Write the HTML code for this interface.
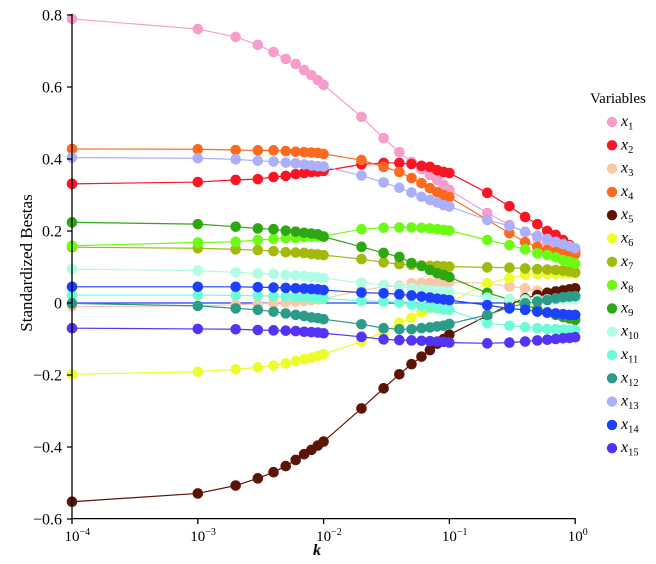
<!DOCTYPE html>
<html><head><meta charset="utf-8"><style>
html,body{margin:0;padding:0;background:#fff;}
svg{display:block;font-family:"Liberation Serif","DejaVu Serif",serif;}
.ln{fill:none;stroke-width:1.2;vector-effect:non-scaling-stroke;stroke-linejoin:round;}
.dt{fill:none;stroke-width:10.6;stroke-linecap:round;vector-effect:non-scaling-stroke;}
</style></head><body>
<svg width="656" height="564" viewBox="0 0 656 564" xmlns="http://www.w3.org/2000/svg">
<rect width="656" height="564" fill="#fff"/>
<g transform="matrix(1,0,0,-360,0,303)">
<!-- lines -->
<path class="ln" stroke="#1c40fc" d="M72 0L509 0"/>
<path class="ln" stroke="#f79dcb" d="M72 .789L197.8 .761 235.67 .739 257.82 .717 273.54 .697 285.73 .678 295.69 .664 304.11 .647 311.41 .633 317.84 .619 323.6 .606 361.47 .517 383.62 .458 399.34 .419 411.53 .392 421.49 .372 429.91 .356 437.21 .342 443.64 .328 449.4 .314 487.27 .25 509.42 .217 525.14 .197 537.33 .181 547.29 .169 555.71 .164 563.01 .158 569.44 .153 575.2 .147"/>
<path class="ln" stroke="#fb1424" d="M72 .331L197.8 .336 235.67 .342 257.82 .344 273.54 .35 285.73 .353 295.69 .358 304.11 .361 311.41 .364 317.84 .365 323.6 .367 361.47 .385 383.62 .389 399.34 .389 411.53 .386 421.49 .381 429.91 .378 437.21 .369 443.64 .364 449.4 .361 487.27 .306 509.42 .269 525.14 .239 537.33 .219 547.29 .2 555.71 .189 563.01 .175 569.44 .161 575.2 .145"/>
<path class="ln" stroke="#fcc6a8" d="M72 -.01L197.8 -.008 235.67 -.005 257.82 -.002 273.54 0 285.73 .002 295.69 .004 304.11 .006 311.41 .008 317.84 .01 323.6 .012 361.47 .035 383.62 .045 399.34 .048 411.53 .055 421.49 .056 429.91 .056 437.21 .056 443.64 .057 449.4 .058 487.27 .055 509.42 .046 525.14 .041 537.33 .034 547.29 .03 555.71 .027 563.01 .025 569.44 .022 575.2 .02"/>
<path class="ln" stroke="#fb6a1e" d="M72 .428L197.8 .427 235.67 .425 257.82 .424 273.54 .424 285.73 .422 295.69 .42 304.11 .419 311.41 .418 317.84 .417 323.6 .414 361.47 .397 383.62 .378 399.34 .364 411.53 .347 421.49 .333 429.91 .319 437.21 .308 443.64 .3 449.4 .294 487.27 .231 509.42 .194 525.14 .169 537.33 .156 547.29 .147 555.71 .142 563.01 .139 569.44 .136 575.2 .135"/>
<path class="ln" stroke="#5c1404" d="M72 -.552L197.8 -.529 235.67 -.507 257.82 -.487 273.54 -.47 285.73 -.453 295.69 -.436 304.11 -.42 311.41 -.408 317.84 -.396 323.6 -.385 361.47 -.293 383.62 -.237 399.34 -.198 411.53 -.17 421.49 -.149 429.91 -.131 437.21 -.113 443.64 -.1 449.4 -.088 487.27 -.035 509.42 -.005 525.14 .013 537.33 .022 547.29 .028 555.71 .032 563.01 .035 569.44 .038 575.2 .041"/>
<path class="ln" stroke="#ecfc2c" d="M72 -.198L197.8 -.191 235.67 -.184 257.82 -.179 273.54 -.174 285.73 -.168 295.69 -.161 304.11 -.156 311.41 -.152 317.84 -.147 323.6 -.142 361.47 -.107 383.62 -.08 399.34 -.055 411.53 -.041 421.49 -.027 429.91 -.015 437.21 -.01 443.64 -.004 449.4 .001 487.27 .055 509.42 .069 525.14 .078 537.33 .08 547.29 .081 555.71 .081 563.01 .082 569.44 .082 575.2 .082"/>
<path class="ln" stroke="#a3b90c" d="M72 .155L197.8 .152 235.67 .149 257.82 .147 273.54 .144 285.73 .141 295.69 .14 304.11 .139 311.41 .136 317.84 .135 323.6 .133 361.47 .122 383.62 .113 399.34 .108 411.53 .106 421.49 .104 429.91 .103 437.21 .103 443.64 .102 449.4 .101 487.27 .099 509.42 .098 525.14 .096 537.33 .094 547.29 .093 555.71 .092 563.01 .09 569.44 .088 575.2 .085"/>
<path class="ln" stroke="#6cfc14" d="M72 .159L197.8 .168 235.67 .17 257.82 .175 273.54 .178 285.73 .18 295.69 .181 304.11 .183 311.41 .184 317.84 .185 323.6 .186 361.47 .205 383.62 .209 399.34 .21 411.53 .21 421.49 .209 429.91 .207 437.21 .205 443.64 .203 449.4 .201 487.27 .175 509.42 .161 525.14 .149 537.33 .138 547.29 .133 555.71 .127 563.01 .119 569.44 .115 575.2 .11"/>
<path class="ln" stroke="#2ea812" d="M72 .224L197.8 .219 235.67 .212 257.82 .207 273.54 .205 285.73 .201 295.69 .198 304.11 .195 311.41 .193 317.84 .191 323.6 .184 361.47 .156 383.62 .139 399.34 .128 411.53 .111 421.49 .103 429.91 .092 437.21 .083 443.64 .078 449.4 .072 487.27 .028 509.42 .01 525.14 -.005 537.33 -.018 547.29 -.026 555.71 -.033 563.01 -.039 569.44 -.043 575.2 -.047"/>
<path class="ln" stroke="#b0fce6" d="M72 .094L197.8 .09 235.67 .085 257.82 .082 273.54 .081 285.73 .078 295.69 .077 304.11 .075 311.41 .073 317.84 .071 323.6 .069 361.47 .056 383.62 .05 399.34 .045 411.53 .042 421.49 .038 429.91 .036 437.21 .034 443.64 .032 449.4 .031 487.27 .015 509.42 .01 525.14 .01 537.33 .01 547.29 .01 555.71 .01 563.01 .01 569.44 .01 575.2 .01"/>
<path class="ln" stroke="#6cfcd8" d="M72 .022L197.8 .022 235.67 .021 257.82 .02 273.54 .019 285.73 .018 295.69 .017 304.11 .016 311.41 .015 317.84 .014 323.6 .013 361.47 .006 383.62 .004 399.34 .001 411.53 -.004 421.49 -.008 429.91 -.012 437.21 -.015 443.64 -.018 449.4 -.019 487.27 -.056 509.42 -.063 525.14 -.067 537.33 -.07 547.29 -.072 555.71 -.073 563.01 -.074 569.44 -.075 575.2 -.075"/>
<path class="ln" stroke="#2c9c8a" d="M72 -.001L197.8 -.008 235.67 -.015 257.82 -.019 273.54 -.024 285.73 -.029 295.69 -.033 304.11 -.036 311.41 -.04 317.84 -.042 323.6 -.045 361.47 -.059 383.62 -.07 399.34 -.073 411.53 -.073 421.49 -.07 429.91 -.068 437.21 -.065 443.64 -.063 449.4 -.058 487.27 -.033 509.42 -.012 525.14 -.001 537.33 .004 547.29 .008 555.71 .013 563.01 .016 569.44 .018 575.2 .019"/>
<path class="ln" stroke="#acb0fa" d="M72 .404L197.8 .402 235.67 .399 257.82 .395 273.54 .393 285.73 .39 295.69 .388 304.11 .385 311.41 .382 317.84 .38 323.6 .379 361.47 .354 383.62 .335 399.34 .32 411.53 .307 421.49 .295 429.91 .286 437.21 .279 443.64 .272 449.4 .268 487.27 .231 509.42 .214 525.14 .198 537.33 .186 547.29 .178 555.71 .17 563.01 .164 569.44 .158 575.2 .152"/>
<path class="ln" stroke="#1c40fc" d="M72 .045L197.8 .045 235.67 .045 257.82 .044 273.54 .043 285.73 .042 295.69 .041 304.11 .04 311.41 .039 317.84 .038 323.6 .036 361.47 .029 383.62 .027 399.34 .024 411.53 .021 421.49 .018 429.91 .015 437.21 .012 443.64 .01 449.4 .008 487.27 -.006 509.42 -.015 525.14 -.019 537.33 -.024 547.29 -.027 555.71 -.029 563.01 -.031 569.44 -.033 575.2 -.033"/>
<path class="ln" stroke="#5434f4" d="M72 -.07L197.8 -.072 235.67 -.073 257.82 -.075 273.54 -.076 285.73 -.077 295.69 -.078 304.11 -.08 311.41 -.081 317.84 -.082 323.6 -.084 361.47 -.094 383.62 -.101 399.34 -.103 411.53 -.104 421.49 -.105 429.91 -.106 437.21 -.107 443.64 -.108 449.4 -.11 487.27 -.112 509.42 -.11 525.14 -.107 537.33 -.104 547.29 -.102 555.71 -.1 563.01 -.098 569.44 -.097 575.2 -.095"/>
<!-- dots -->
<path class="dt" stroke="#f79dcb" d="M72 .789h0M197.8 .761h0M235.67 .739h0M257.82 .717h0M273.54 .697h0M285.73 .678h0M295.69 .664h0M304.11 .647h0M311.41 .633h0M317.84 .619h0M323.6 .606h0M361.47 .517h0M383.62 .458h0M399.34 .419h0M411.53 .392h0M421.49 .372h0M429.91 .356h0M437.21 .342h0M443.64 .328h0M449.4 .314h0M487.27 .25h0M509.42 .217h0M525.14 .197h0M537.33 .181h0M547.29 .169h0M555.71 .164h0M563.01 .158h0M569.44 .153h0M575.2 .147h0"/>
<path class="dt" stroke="#fb1424" d="M72 .331h0M197.8 .336h0M235.67 .342h0M257.82 .344h0M273.54 .35h0M285.73 .353h0M295.69 .358h0M304.11 .361h0M311.41 .364h0M317.84 .365h0M323.6 .367h0M361.47 .385h0M383.62 .389h0M399.34 .389h0M411.53 .386h0M421.49 .381h0M429.91 .378h0M437.21 .369h0M443.64 .364h0M449.4 .361h0M487.27 .306h0M509.42 .269h0M525.14 .239h0M537.33 .219h0M547.29 .2h0M555.71 .189h0M563.01 .175h0M569.44 .161h0M575.2 .145h0"/>
<path class="dt" stroke="#fcc6a8" d="M72 -.01h0M197.8 -.008h0M235.67 -.005h0M257.82 -.002h0M273.54 0h0M285.73 .002h0M295.69 .004h0M304.11 .006h0M311.41 .008h0M317.84 .01h0M323.6 .012h0M361.47 .035h0M383.62 .045h0M399.34 .048h0M411.53 .055h0M421.49 .056h0M429.91 .056h0M437.21 .056h0M443.64 .057h0M449.4 .058h0M487.27 .055h0M509.42 .046h0M525.14 .041h0M537.33 .034h0M547.29 .03h0M555.71 .027h0M563.01 .025h0M569.44 .022h0M575.2 .02h0"/>
<path class="dt" stroke="#fb6a1e" d="M72 .428h0M197.8 .427h0M235.67 .425h0M257.82 .424h0M273.54 .424h0M285.73 .422h0M295.69 .42h0M304.11 .419h0M311.41 .418h0M317.84 .417h0M323.6 .414h0M361.47 .397h0M383.62 .378h0M399.34 .364h0M411.53 .347h0M421.49 .333h0M429.91 .319h0M437.21 .308h0M443.64 .3h0M449.4 .294h0M487.27 .231h0M509.42 .194h0M525.14 .169h0M537.33 .156h0M547.29 .147h0M555.71 .142h0M563.01 .139h0M569.44 .136h0M575.2 .135h0"/>
<path class="dt" stroke="#5c1404" d="M72 -.552h0M197.8 -.529h0M235.67 -.507h0M257.82 -.487h0M273.54 -.47h0M285.73 -.453h0M295.69 -.436h0M304.11 -.42h0M311.41 -.408h0M317.84 -.396h0M323.6 -.385h0M361.47 -.293h0M383.62 -.237h0M399.34 -.198h0M411.53 -.17h0M421.49 -.149h0M429.91 -.131h0M437.21 -.113h0M443.64 -.1h0M449.4 -.088h0M487.27 -.035h0M509.42 -.005h0M525.14 .013h0M537.33 .022h0M547.29 .028h0M555.71 .032h0M563.01 .035h0M569.44 .038h0M575.2 .041h0"/>
<path class="dt" stroke="#ecfc2c" d="M72 -.198h0M197.8 -.191h0M235.67 -.184h0M257.82 -.179h0M273.54 -.174h0M285.73 -.168h0M295.69 -.161h0M304.11 -.156h0M311.41 -.152h0M317.84 -.147h0M323.6 -.142h0M361.47 -.107h0M383.62 -.08h0M399.34 -.055h0M411.53 -.041h0M421.49 -.027h0M429.91 -.015h0M437.21 -.01h0M443.64 -.004h0M449.4 .001h0M487.27 .055h0M509.42 .069h0M525.14 .078h0M537.33 .08h0M547.29 .081h0M555.71 .081h0M563.01 .082h0M569.44 .082h0M575.2 .082h0"/>
<path class="dt" stroke="#a3b90c" d="M72 .155h0M197.8 .152h0M235.67 .149h0M257.82 .147h0M273.54 .144h0M285.73 .141h0M295.69 .14h0M304.11 .139h0M311.41 .136h0M317.84 .135h0M323.6 .133h0M361.47 .122h0M383.62 .113h0M399.34 .108h0M411.53 .106h0M421.49 .104h0M429.91 .103h0M437.21 .103h0M443.64 .102h0M449.4 .101h0M487.27 .099h0M509.42 .098h0M525.14 .096h0M537.33 .094h0M547.29 .093h0M555.71 .092h0M563.01 .09h0M569.44 .088h0M575.2 .085h0"/>
<path class="dt" stroke="#6cfc14" d="M72 .159h0M197.8 .168h0M235.67 .17h0M257.82 .175h0M273.54 .178h0M285.73 .18h0M295.69 .181h0M304.11 .183h0M311.41 .184h0M317.84 .185h0M323.6 .186h0M361.47 .205h0M383.62 .209h0M399.34 .21h0M411.53 .21h0M421.49 .209h0M429.91 .207h0M437.21 .205h0M443.64 .203h0M449.4 .201h0M487.27 .175h0M509.42 .161h0M525.14 .149h0M537.33 .138h0M547.29 .133h0M555.71 .127h0M563.01 .119h0M569.44 .115h0M575.2 .11h0"/>
<path class="dt" stroke="#2ea812" d="M72 .224h0M197.8 .219h0M235.67 .212h0M257.82 .207h0M273.54 .205h0M285.73 .201h0M295.69 .198h0M304.11 .195h0M311.41 .193h0M317.84 .191h0M323.6 .184h0M361.47 .156h0M383.62 .139h0M399.34 .128h0M411.53 .111h0M421.49 .103h0M429.91 .092h0M437.21 .083h0M443.64 .078h0M449.4 .072h0M487.27 .028h0M509.42 .01h0M525.14 -.005h0M537.33 -.018h0M547.29 -.026h0M555.71 -.033h0M563.01 -.039h0M569.44 -.043h0M575.2 -.047h0"/>
<path class="dt" stroke="#b0fce6" d="M72 .094h0M197.8 .09h0M235.67 .085h0M257.82 .082h0M273.54 .081h0M285.73 .078h0M295.69 .077h0M304.11 .075h0M311.41 .073h0M317.84 .071h0M323.6 .069h0M361.47 .056h0M383.62 .05h0M399.34 .045h0M411.53 .042h0M421.49 .038h0M429.91 .036h0M437.21 .034h0M443.64 .032h0M449.4 .031h0M487.27 .015h0M509.42 .01h0M525.14 .01h0M537.33 .01h0M547.29 .01h0M555.71 .01h0M563.01 .01h0M569.44 .01h0M575.2 .01h0"/>
<path class="dt" stroke="#6cfcd8" d="M72 .022h0M197.8 .022h0M235.67 .021h0M257.82 .02h0M273.54 .019h0M285.73 .018h0M295.69 .017h0M304.11 .016h0M311.41 .015h0M317.84 .014h0M323.6 .013h0M361.47 .006h0M383.62 .004h0M399.34 .001h0M411.53 -.004h0M421.49 -.008h0M429.91 -.012h0M437.21 -.015h0M443.64 -.018h0M449.4 -.019h0M487.27 -.056h0M509.42 -.063h0M525.14 -.067h0M537.33 -.07h0M547.29 -.072h0M555.71 -.073h0M563.01 -.074h0M569.44 -.075h0M575.2 -.075h0"/>
<path class="dt" stroke="#2c9c8a" d="M72 -.001h0M197.8 -.008h0M235.67 -.015h0M257.82 -.019h0M273.54 -.024h0M285.73 -.029h0M295.69 -.033h0M304.11 -.036h0M311.41 -.04h0M317.84 -.042h0M323.6 -.045h0M361.47 -.059h0M383.62 -.07h0M399.34 -.073h0M411.53 -.073h0M421.49 -.07h0M429.91 -.068h0M437.21 -.065h0M443.64 -.063h0M449.4 -.058h0M487.27 -.033h0M509.42 -.012h0M525.14 -.001h0M537.33 .004h0M547.29 .008h0M555.71 .013h0M563.01 .016h0M569.44 .018h0M575.2 .019h0"/>
<path class="dt" stroke="#acb0fa" d="M72 .404h0M197.8 .402h0M235.67 .399h0M257.82 .395h0M273.54 .393h0M285.73 .39h0M295.69 .388h0M304.11 .385h0M311.41 .382h0M317.84 .38h0M323.6 .379h0M361.47 .354h0M383.62 .335h0M399.34 .32h0M411.53 .307h0M421.49 .295h0M429.91 .286h0M437.21 .279h0M443.64 .272h0M449.4 .268h0M487.27 .231h0M509.42 .214h0M525.14 .198h0M537.33 .186h0M547.29 .178h0M555.71 .17h0M563.01 .164h0M569.44 .158h0M575.2 .152h0"/>
<path class="dt" stroke="#1c40fc" d="M72 .045h0M197.8 .045h0M235.67 .045h0M257.82 .044h0M273.54 .043h0M285.73 .042h0M295.69 .041h0M304.11 .04h0M311.41 .039h0M317.84 .038h0M323.6 .036h0M361.47 .029h0M383.62 .027h0M399.34 .024h0M411.53 .021h0M421.49 .018h0M429.91 .015h0M437.21 .012h0M443.64 .01h0M449.4 .008h0M487.27 -.006h0M509.42 -.015h0M525.14 -.019h0M537.33 -.024h0M547.29 -.027h0M555.71 -.029h0M563.01 -.031h0M569.44 -.033h0M575.2 -.033h0"/>
<path class="dt" stroke="#5434f4" d="M72 -.07h0M197.8 -.072h0M235.67 -.073h0M257.82 -.075h0M273.54 -.076h0M285.73 -.077h0M295.69 -.078h0M304.11 -.08h0M311.41 -.081h0M317.84 -.082h0M323.6 -.084h0M361.47 -.094h0M383.62 -.101h0M399.34 -.103h0M411.53 -.104h0M421.49 -.105h0M429.91 -.106h0M437.21 -.107h0M443.64 -.108h0M449.4 -.11h0M487.27 -.112h0M509.42 -.11h0M525.14 -.107h0M537.33 -.104h0M547.29 -.102h0M555.71 -.1h0M563.01 -.098h0M569.44 -.097h0M575.2 -.095h0"/>
</g>
<!-- axes -->
<g stroke="#000" stroke-width="1.3" fill="none">
<path d="M72 14V519M71.4 518.6H575.8"/>
<path d="M67 15H72M67 87H72M67 159H72M67 231H72M67 303H72M67 375H72M67 447H72M67 519H72"/>
<path d="M72 519V524M197.8 519V524M323.6 519V524M449.4 519V524M575.2 519V524"/>
</g>
<g font-size="16" text-anchor="end" fill="#000">
<text x="62" y="20.5">0.8</text>
<text x="62" y="92.5">0.6</text>
<text x="62" y="164.5">0.4</text>
<text x="62" y="236.5">0.2</text>
<text x="62" y="308.5">0</text>
<text x="62" y="380.5">−0.2</text>
<text x="62" y="452.5">−0.4</text>
<text x="62" y="524.5">−0.6</text>
</g>
<g font-size="15" fill="#000">
<text x="64.5" y="541">10<tspan font-size="10" dy="-6">−4</tspan></text>
<text x="190.3" y="541">10<tspan font-size="10" dy="-6">−3</tspan></text>
<text x="316.1" y="541">10<tspan font-size="10" dy="-6">−2</tspan></text>
<text x="441.9" y="541">10<tspan font-size="10" dy="-6">−1</tspan></text>
<text x="567.7" y="541">10<tspan font-size="10" dy="-6">0</tspan></text>
</g>
<text x="313" y="555" font-size="16" font-style="italic" font-weight="bold" fill="#000">k</text>
<text transform="translate(32,263) rotate(-90)" text-anchor="middle" font-size="17" fill="#000">Standardized Bestas</text>
<!-- legend -->
<text x="590" y="103" font-size="15" fill="#000">Variables</text>
<g>
<circle cx="612" cy="122" r="5.2" fill="#f79dcb"/>
<circle cx="612" cy="145.3" r="5.2" fill="#fb1424"/>
<circle cx="612" cy="168.6" r="5.2" fill="#fcc6a8"/>
<circle cx="612" cy="191.9" r="5.2" fill="#fb6a1e"/>
<circle cx="612" cy="215.2" r="5.2" fill="#5c1404"/>
<circle cx="612" cy="238.5" r="5.2" fill="#ecfc2c"/>
<circle cx="612" cy="261.8" r="5.2" fill="#a3b90c"/>
<circle cx="612" cy="285.1" r="5.2" fill="#6cfc14"/>
<circle cx="612" cy="308.4" r="5.2" fill="#2ea812"/>
<circle cx="612" cy="331.7" r="5.2" fill="#b0fce6"/>
<circle cx="612" cy="355" r="5.2" fill="#6cfcd8"/>
<circle cx="612" cy="378.3" r="5.2" fill="#2c9c8a"/>
<circle cx="612" cy="401.6" r="5.2" fill="#acb0fa"/>
<circle cx="612" cy="424.9" r="5.2" fill="#1c40fc"/>
<circle cx="612" cy="448.2" r="5.2" fill="#5434f4"/>
</g>
<g font-size="16" fill="#000">
<text x="621" y="126"><tspan font-style="italic">x</tspan><tspan font-size="10.5" dy="3.5">1</tspan></text>
<text x="621" y="149.3"><tspan font-style="italic">x</tspan><tspan font-size="10.5" dy="3.5">2</tspan></text>
<text x="621" y="172.6"><tspan font-style="italic">x</tspan><tspan font-size="10.5" dy="3.5">3</tspan></text>
<text x="621" y="195.9"><tspan font-style="italic">x</tspan><tspan font-size="10.5" dy="3.5">4</tspan></text>
<text x="621" y="219.2"><tspan font-style="italic">x</tspan><tspan font-size="10.5" dy="3.5">5</tspan></text>
<text x="621" y="242.5"><tspan font-style="italic">x</tspan><tspan font-size="10.5" dy="3.5">6</tspan></text>
<text x="621" y="265.8"><tspan font-style="italic">x</tspan><tspan font-size="10.5" dy="3.5">7</tspan></text>
<text x="621" y="289.1"><tspan font-style="italic">x</tspan><tspan font-size="10.5" dy="3.5">8</tspan></text>
<text x="621" y="312.4"><tspan font-style="italic">x</tspan><tspan font-size="10.5" dy="3.5">9</tspan></text>
<text x="621" y="335.7"><tspan font-style="italic">x</tspan><tspan font-size="10.5" dy="3.5">10</tspan></text>
<text x="621" y="359"><tspan font-style="italic">x</tspan><tspan font-size="10.5" dy="3.5">11</tspan></text>
<text x="621" y="382.3"><tspan font-style="italic">x</tspan><tspan font-size="10.5" dy="3.5">12</tspan></text>
<text x="621" y="405.6"><tspan font-style="italic">x</tspan><tspan font-size="10.5" dy="3.5">13</tspan></text>
<text x="621" y="428.9"><tspan font-style="italic">x</tspan><tspan font-size="10.5" dy="3.5">14</tspan></text>
<text x="621" y="452.2"><tspan font-style="italic">x</tspan><tspan font-size="10.5" dy="3.5">15</tspan></text>
</g>
</svg>
</body></html>
